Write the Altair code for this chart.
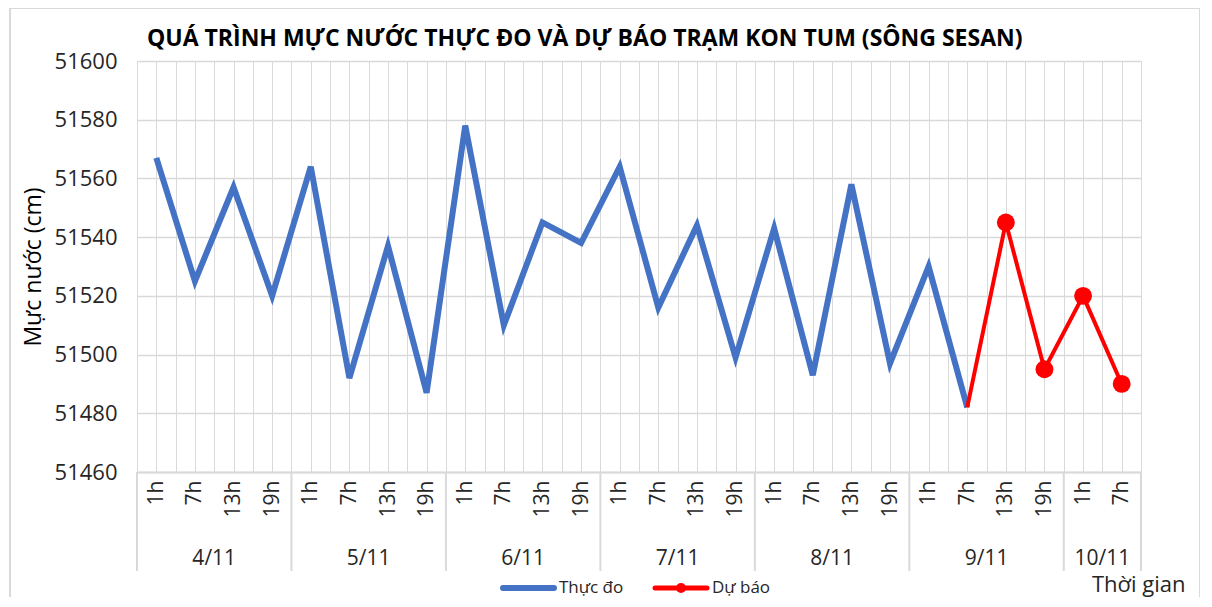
import altair as alt
import pandas as pd

hours = ["1h", "7h", "13h", "19h"] * 6 + ["1h", "7h"]
days = (["4/11"] * 4 + ["5/11"] * 4 + ["6/11"] * 4 + ["7/11"] * 4 +
        ["8/11"] * 4 + ["9/11"] * 4 + ["10/11"] * 2)
observed = [51567, 51525, 51557, 51520, 51564, 51492, 51537, 51487,
            51578, 51510, 51545, 51538, 51564, 51516, 51544, 51499,
            51543, 51493, 51558, 51497, 51530, 51482]
forecast = [51482, 51545, 51495, 51520, 51490]
forecast_start = 21
y_ticks = [51460, 51480, 51500, 51520, 51540, 51560, 51580, 51600]
title_text = "QUÁ TRÌNH MỰC NƯỚC THỰC ĐO VÀ DỰ BÁO TRẠM KON TUM (SÔNG SESAN)"
s_obs, s_fc = "Thực đo", "Dự báo"

W, H = 1004, 411
FONT = "Open Sans"
GRID = "#d9d9d9"
BLUE, RED = "#4472C4", "#FF0000"

n = len(hours)
rows = []
for i, v in enumerate(observed):
    rows.append({"idx": i, "value": v, "series": s_obs})
for k, v in enumerate(forecast):
    rows.append({"idx": forecast_start + k, "value": v, "series": s_fc})
df = pd.DataFrame(rows)

cat = pd.DataFrame({"idx": list(range(n)), "day": days, "hour": hours})
day_groups = cat.groupby("day", sort=False)["idx"].agg(["min", "max"]).reset_index()
day_groups["center"] = (day_groups["min"] + day_groups["max"]) / 2
bounds = pd.DataFrame({"b": [g - 0.5 for g in day_groups["min"]] + [n - 0.5]})
half_vals = [i / 2 - 0.5 for i in range(2 * n + 1)]

hour_js = "[" + ",".join("'" + h + "'" for h in hours) + "]"
label_expr = "(datum.value % 1 == 0) ? " + hour_js + "[round(datum.value)] : ''"
xscale = alt.Scale(domain=[-0.5, n - 0.5], nice=False, zero=False)
yscale = alt.Scale(domain=[51460, 51600], nice=False, zero=False)

xaxis = alt.Axis(values=half_vals, grid=True, gridColor=GRID, gridWidth=1,
                 ticks=False, domain=True, domainColor=GRID, domainWidth=2,
                 labelExpr=label_expr,
                 labelAngle=270, labelAlign="right", labelBaseline="middle",
                 labelPadding=8, labelFont=FONT, labelFontSize=21, labelColor="#262626",
                 title=None, labelOverlap=False, labelBound=False, labelFlush=False)
yaxis = alt.Axis(values=y_ticks, format="d", grid=True, gridColor=GRID, gridWidth=1.5,
                 ticks=False, domain=False, labelFont=FONT, labelFontSize=22,
                 labelColor="#262626", labelPadding=20, title="Mực nước (cm)",
                 titleFont=FONT, titleFontSize=23, titleFontWeight="normal",
                 titleColor="#000000", titleAngle=270, titleX=-92, titleY=H / 2,
                 titleAlign="center", titleBaseline="bottom")


def X(field):
    return alt.X(field, type="quantitative", scale=xscale, axis=xaxis)


def Y(field):
    return alt.Y(field, type="quantitative", scale=yscale, axis=yaxis)


base = alt.Chart(df)
lines = base.mark_line(strokeJoin="miter").encode(
    x=X("idx"),
    y=Y("value"),
    color=alt.Color("series:N", scale=alt.Scale(domain=[s_obs, s_fc], range=[BLUE, RED]), legend=None),
    strokeWidth=alt.StrokeWidth("series:N", scale=alt.Scale(domain=[s_obs, s_fc], range=[6, 4]), legend=None),
    detail="series:N",
)
points = base.transform_filter(
    (alt.datum.series == s_fc) & (alt.datum.idx > forecast_start)
).mark_circle(size=320, opacity=1, color=RED).encode(x=X("idx"), y=Y("value"))

seps = alt.Chart(bounds).mark_rule(color=GRID, strokeWidth=2).encode(
    x=X("b"), y=alt.value(H), y2=alt.value(H + 99))
day_text = alt.Chart(day_groups).mark_text(font=FONT, fontSize=21, color="#262626",
                                           baseline="alphabetic").encode(
    x=X("center"), y=alt.value(H + 93), text="day:N")

title = alt.Chart(pd.DataFrame({"t": [title_text]})).mark_text(
    font=FONT, fontSize=23, fontWeight="bold", color="#000000", align="left",
    baseline="alphabetic").encode(x=alt.value(10), y=alt.value(-15), text="t:N")

xtitle = alt.Chart(pd.DataFrame({"t": ["Thời gian"]})).mark_text(
    font=FONT, fontSize=22, color="#262626", align="left", baseline="alphabetic"
).encode(x=alt.value(955), y=alt.value(531), text="t:N")

border = alt.Chart(pd.DataFrame({"a": [0]})).mark_rect(
    fill=None, stroke=GRID, strokeWidth=2).encode(
    x=alt.value(-127), x2=alt.value(1063), y=alt.value(-53), y2=alt.value(560))

# legend
leg_y = 527
leg_blue = alt.Chart(pd.DataFrame({"a": [0]})).mark_rule(color=BLUE, strokeWidth=6, strokeCap="round").encode(
    x=alt.value(366), x2=alt.value(417), y=alt.value(leg_y))
leg_blue_t = alt.Chart(pd.DataFrame({"t": [s_obs]})).mark_text(
    font=FONT, fontSize=17, color="#262626", align="left", baseline="middle").encode(
    x=alt.value(422), y=alt.value(leg_y), text="t:N")
leg_red = alt.Chart(pd.DataFrame({"a": [0]})).mark_rule(color=RED, strokeWidth=5, strokeCap="round").encode(
    x=alt.value(518), x2=alt.value(570), y=alt.value(leg_y))
leg_red_dot = alt.Chart(pd.DataFrame({"a": [0]})).mark_circle(color=RED, size=100, opacity=1).encode(
    x=alt.value(544), y=alt.value(leg_y))
leg_red_t = alt.Chart(pd.DataFrame({"t": [s_fc]})).mark_text(
    font=FONT, fontSize=17, color="#262626", align="left", baseline="middle").encode(
    x=alt.value(575), y=alt.value(leg_y), text="t:N")

chart = alt.layer(
    border, lines, points, seps, day_text, title, xtitle,
    leg_blue, leg_blue_t, leg_red, leg_red_dot, leg_red_t
).properties(
    width=W, height=H,
    autosize=alt.AutoSizeParams(type="none"),
    padding={"left": 129, "top": 53, "right": 59, "bottom": 125},
    background="white",
).configure_view(stroke=None)

chart.save("out.html", embed_options={"renderer": "svg", "actions": False})
